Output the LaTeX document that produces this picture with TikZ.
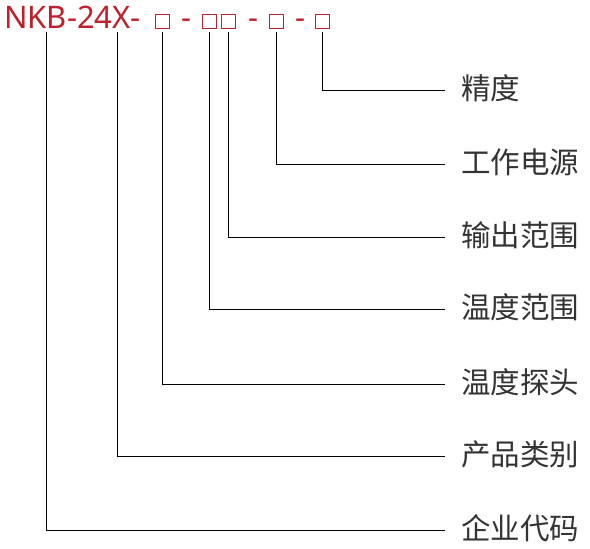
\documentclass[tikz,border=0pt]{standalone}
\usepackage{fontspec}
\setmainfont{Noto Sans}
\newfontfamily\cjk{Noto Sans CJK SC}
\definecolor{codered}{RGB}{192,32,42}
\definecolor{labelgray}{RGB}{51,51,51}
\begin{document}
\begin{tikzpicture}[x=1pt,y=-1pt,
  codebox/.style={draw=codered,line width=0.9pt,minimum size=14pt,inner sep=0pt},
  codetext/.style={text=codered,font=\fontsize{31}{31}\selectfont,inner sep=0pt},
  lbl/.style={text=labelgray,font=\cjk\fontsize{29.5}{30}\selectfont,inner sep=0pt,anchor=west},
  lead/.style={line width=0.9pt,black}]
\useasboundingbox (0,0) rectangle (590,549);
\node[codetext,anchor=base west] (head) at (4,28.5) {NKB-24X-};
\node[codebox] (b1) at (162.5,21.5) {};
\node[codetext,anchor=base] (d1) at (186,28.5) {-};
\node[codebox] (b2) at (209,21.5) {};
\node[codebox] (b3) at (228.5,21.5) {};
\node[codetext,anchor=base] (d2) at (253.5,28.5) {-};
\node[codebox] (b4) at (276,21.5) {};
\node[codetext,anchor=base] (d3) at (300,28.5) {-};
\node[codebox] (b5) at (322.5,21.5) {};
\coordinate (cN) at (46.5,32);
\coordinate (cX) at (117.5,32);
\node[lbl] (l1) at (461,88) {精度};
\node[lbl] (l2) at (461,162) {工作电源};
\node[lbl] (l3) at (461,235) {输出范围};
\node[lbl] (l4) at (461,307) {温度范围};
\node[lbl] (l5) at (461,382) {温度探头};
\node[lbl] (l6) at (461,454) {产品类别};
\node[lbl] (l7) at (461,528) {企业代码};
\draw[lead] (b5.south) ++(0,3) |- ([xshift=-16pt,yshift=-2pt]l1.west);
\draw[lead] (b4.south) ++(0,3) |- ([xshift=-16pt,yshift=-2pt]l2.west);
\draw[lead] (b3.south) ++(0,3) |- ([xshift=-16pt,yshift=-2pt]l3.west);
\draw[lead] (b2.south) ++(0,3) |- ([xshift=-16pt,yshift=-2pt]l4.west);
\draw[lead] (b1.south) ++(0,3) |- ([xshift=-16pt,yshift=-2pt]l5.west);
\draw[lead] (cX) |- ([xshift=-16pt,yshift=-2pt]l6.west);
\draw[lead] (cN) |- ([xshift=-16pt,yshift=-2pt]l7.west);
\end{tikzpicture}
\end{document}
